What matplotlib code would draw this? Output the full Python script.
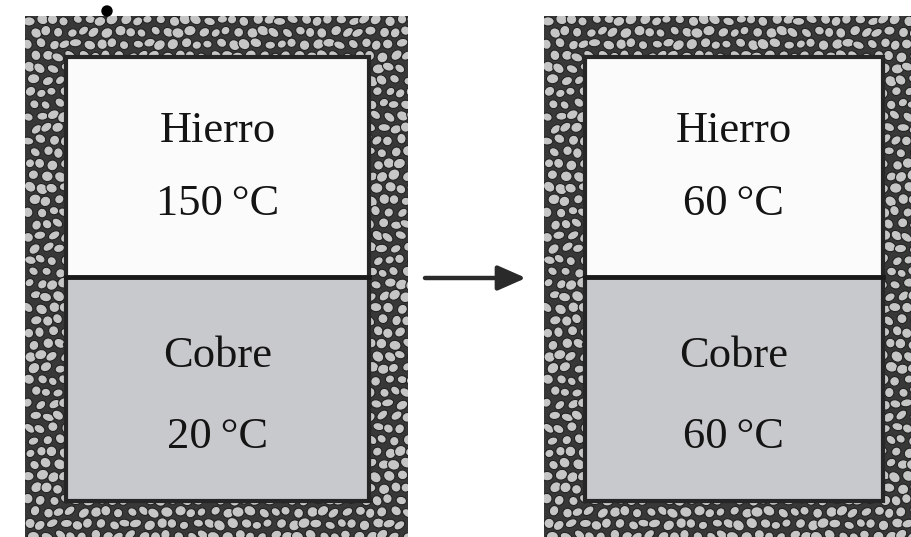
import numpy as np
import matplotlib
matplotlib.use('Agg')
import matplotlib.pyplot as plt
from matplotlib.patches import Rectangle, Ellipse, FancyArrowPatch, Circle
from matplotlib.collections import PatchCollection

# labels for the two states
metals = ['Hierro', 'Cobre']
temps_before = ['150\u2009°C', '20\u2009°C']
temps_after = ['60\u2009°C', '60\u2009°C']

# box geometry (pixels)
outer_box = [(25, 16, 408, 545), (544, 16, 920, 545)]
inner_box = [(66, 57, 369, 501), (585, 57, 883, 501)]
divider_y = 277

DARK = '#383838'
PEBBLE = '#c6c6c6'
TOP_FILL = '#fbfbfb'
BOTTOM_FILL = '#c8c9cc'

fig = plt.figure(figsize=(9.12, 5.37), dpi=100)
ax = fig.add_axes([0, 0, 1, 1])
ax.set_xlim(0, 912)
ax.set_ylim(537, 0)
ax.axis('off')


def pebbles(x0, y0, x1, y1):
    pats = []
    sp = 12.0
    nx = int((x1 - x0) / sp) + 2
    ny = int((y1 - y0) / sp) + 2
    for j in range(ny):
        for i in range(nx):
            cx = x0 + 4 + i * sp + (j % 2) * sp / 2 + 1.6 * np.sin(i * 1.7 + j * 2.3)
            cy = y0 + 4 + j * sp + 1.4 * np.cos(i * 2.1 + j * 0.7)
            w = 10.8 + 1.6 * np.cos(i * 0.9 + j * 1.3)
            h = 9.2 + 1.4 * np.sin(i * 1.1 + j * 0.5)
            ang = 40 * np.sin(i * 0.6 + j * 1.9)
            pats.append(Ellipse((cx, cy), w, h, angle=ang))
    return pats


def draw_box(outer, inner, texts):
    ox0, oy0, ox1, oy1 = outer
    ix0, iy0, ix1, iy1 = inner
    bg = Rectangle((ox0, oy0), ox1 - ox0, oy1 - oy0, facecolor=DARK, edgecolor='none', zorder=1)
    ax.add_patch(bg)
    coll = PatchCollection(pebbles(ox0, oy0, ox1, oy1), facecolor=PEBBLE,
                           edgecolor='#222222', linewidth=0.8, zorder=2)
    ax.add_collection(coll)
    coll.set_clip_path(bg)
    # inner compartments
    ax.add_patch(Rectangle((ix0, iy0), ix1 - ix0, divider_y - iy0,
                           facecolor=TOP_FILL, edgecolor='none', zorder=3))
    ax.add_patch(Rectangle((ix0, divider_y), ix1 - ix0, iy1 - divider_y,
                           facecolor=BOTTOM_FILL, edgecolor='none', zorder=3))
    ax.add_patch(Rectangle((ix0, iy0), ix1 - ix0, iy1 - iy0,
                           facecolor='none', edgecolor='#262626', linewidth=3, zorder=4))
    ax.plot([ix0, ix1], [divider_y, divider_y], color='#1a1a1a', lw=3.5, zorder=4)
    cx = (ix0 + ix1) / 2
    for y, s in zip([142, 215, 367, 448], texts):
        ax.text(cx, y, s, ha='center', va='baseline', fontsize=32,
                family=['Liberation Serif', 'DejaVu Serif'], color='#141414', zorder=5)


draw_box(outer_box[0], inner_box[0],
         [metals[0], temps_before[0], metals[1], temps_before[1]])
draw_box(outer_box[1], inner_box[1],
         [metals[0], temps_after[0], metals[1], temps_after[1]])

# arrow between states
arr = FancyArrowPatch((425, 278), (526, 278), arrowstyle='-|>,head_length=17,head_width=7.5',
                      mutation_scale=1, color='#2a2a2a', lw=3.2, zorder=5,
                      shrinkA=0, shrinkB=0)
ax.add_patch(arr)

# stray dot above left box
ax.add_patch(Circle((107, 11), 5, color='black', zorder=6))

fig.savefig('out.png', dpi=100)
